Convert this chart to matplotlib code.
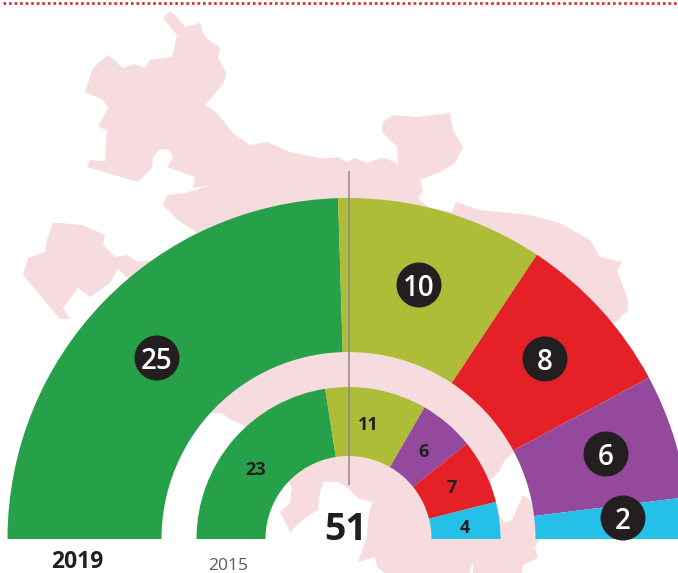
import matplotlib
matplotlib.use("Agg")
import matplotlib.pyplot as plt
from matplotlib.patches import Wedge, Polygon, Circle

# ---- data ----
seats_2019 = [25, 10, 8, 6, 2]
seats_2015 = [23, 11, 6, 7, 4]
total_seats = 51
year_main = "2019"
year_prev = "2015"
colors_2019 = ["#27A04A", "#ADBD37", "#E52027", "#94499C", "#25C0E7"]
colors_2015 = ["#27A04A", "#ADBD37", "#94499C", "#E52027", "#25C0E7"]

# decorative map silhouette, traced in image pixels
map_outline = [
    (163,18),(170,11),(177,17),(185,27),(200,23),(205,37),(220,48),(218,58),(226,72),(224,83),
    (205,105),(217,113),(233,133),(250,145),(267,142),(290,152),(320,158),(330,158),(338,157),
    (347,162),(355,158),(367,163),(380,158),(388,159),(398,164),(397,147),(382,132),(383,122),
    (393,115),(417,117),(450,113),(453,130),(463,147),(455,163),(440,172),(420,180),(423,192),
    (418,198),(428,207),(452,212),(456,202),(480,210),(530,215),(560,223),(590,240),(600,257),
    (622,262),(617,270),(628,300),(628,310),(613,325),(518,445),(513,453),(505,460),(498,473),
    (490,480),(495,500),(500,517),(505,523),(512,520),(523,495),(530,500),(545,530),(535,547),
    (538,558),(523,565),(522,573),(473,573),(473,562),(469,573),(385,573),(377,567),(375,557),
    (358,562),(367,537),(368,520),(372,502),(358,498),(348,488),(338,482),(323,482),(320,493),
    (318,510),(305,518),(295,527),(290,533),(287,525),(280,512),(290,503),(292,487),(243,425),
    (228,418),(222,413),(210,413),(128,278),(118,269),(110,283),(90,297),(78,288),(63,308),
    (70,319),(60,319),(23,275),(28,258),(45,252),(47,240),(53,223),(60,223),(82,225),(105,235),
    (103,245),(115,257),(128,255),(137,262),(152,260),(197,232),(180,222),(163,205),(167,195),
    (185,193),(213,185),(193,188),(195,177),(167,167),(173,158),(170,150),(160,149),(153,157),
    (152,168),(138,182),(87,167),(90,160),(105,161),(107,130),(98,127),(108,108),(103,100),
    (85,92),(93,68),(108,55),(123,68),(135,64),(145,68),(150,60),(172,57),(177,35),
]

# ---- layout (image pixels) ----
W, H = 678, 573
CX, CY = 348.5, 539
R_OUT, R_OUT_IN = 341, 187
R_IN, R_IN_IN = 152, 83
badge_xy = [(157,358),(419,285),(545,359),(606,454),(623,518)]
inner_xy = [(256,468),(368,423),(424,450),(452,486),(465,526)]
BLACK = "#231F20"
FONT = "Open Sans"


def px(x, y):
    return x - CX, CY - y


fig = plt.figure(figsize=(W / 100, H / 100), dpi=100, facecolor="white")
ax = fig.add_axes([0, 0, 1, 1])
ax.set_xlim(-CX, W - CX)
ax.set_ylim(CY - H, CY)
ax.axis("off")

ax.add_patch(Polygon([px(x, y) for x, y in map_outline], closed=True,
                     fc="#F6DCDE", ec="none", zorder=1))


def ring(values, colors, r_out, r_in):
    total = sum(values)
    angle = 180.0
    for v, c in zip(values, colors):
        start = angle - 180.0 * v / total
        ax.add_patch(Wedge((0, 0), r_out, start, angle, width=r_out - r_in,
                           fc=c, ec="none", zorder=2))
        angle = start


ring(seats_2019, colors_2019, R_OUT, R_OUT_IN)
ring(seats_2015, colors_2015, R_IN, R_IN_IN)

# centre rule
ax.plot([0, 0], [CY - 171, CY - 485], color="#8C8C8C", lw=1.1, zorder=3, solid_capstyle="butt")

# top dotted rule
ax.plot([-CX + 3, W - CX], [CY - 2.5, CY - 2.5], color="#E52027", lw=1.9,
        linestyle=(0, (1, 1.1)), dash_capstyle="butt", zorder=3)

for v, (x, y) in zip(seats_2019, badge_xy):
    bx, by = px(x, y)
    ax.add_patch(Circle((bx, by), 22.5, fc=BLACK, ec="none", zorder=4))
    ax.text(bx, by, str(v), color="white", fontsize=20, fontweight="semibold", family=FONT,
            ha="center", va="center_baseline", zorder=5)

for v, (x, y) in zip(seats_2015, inner_xy):
    tx, ty = px(x, y)
    ax.text(tx, ty, str(v), color=BLACK, fontsize=13, fontweight="bold", family=FONT,
            ha="center", va="center_baseline", zorder=5)

ax.text(*px(346, 540), str(total_seats), color=BLACK, fontsize=27, fontweight="bold",
        family=FONT, ha="center", va="baseline", zorder=5)
ax.text(*px(77, 567.5), year_main, color=BLACK, fontsize=16.5, fontweight="bold", family=FONT,
        ha="center", va="baseline", zorder=5)
ax.text(*px(228.5, 570), year_prev, color="#58595B", fontsize=12.5, family=FONT,
        ha="center", va="baseline", zorder=5)

fig.savefig("out.png", dpi=100, facecolor="white")
